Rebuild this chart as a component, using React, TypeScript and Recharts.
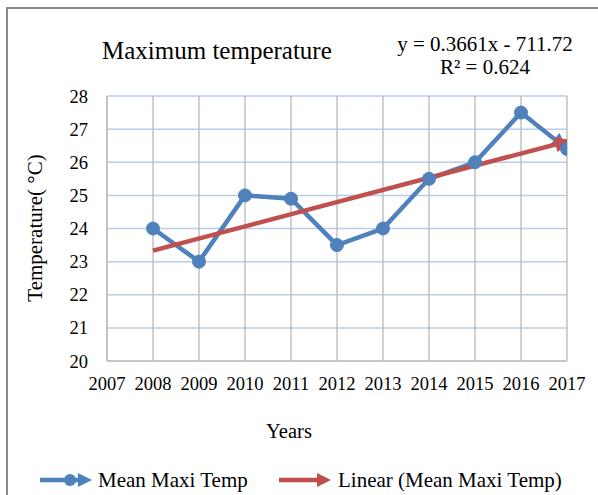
import React from 'react';
import { LineChart, Line, XAxis, YAxis, CartesianGrid } from 'recharts';

const years = [2008, 2009, 2010, 2011, 2012, 2013, 2014, 2015, 2016, 2017];
const maxTemp = [24, 23, 25, 24.9, 23.5, 24, 25.5, 26, 27.5, 26.4];
const trendYears = [2008, 2017];
const trendValues = [23.33, 26.63];
const xTicks = [2007, 2008, 2009, 2010, 2011, 2012, 2013, 2014, 2015, 2016, 2017];
const yTicks = [20, 21, 22, 23, 24, 25, 26, 27, 28];

const seriesName = 'Mean Maxi Temp';
const trendName = 'Linear (Mean Maxi Temp)';
const titleText = 'Maximum temperature';
const eqText = 'y = 0.3661x - 711.72';
const r2Text = 'R² = 0.624';
const xLabel = 'Years';
const yLabel = 'Temperature( °C)';

const BLUE = '#4f81bd';
const RED = '#c0504d';
const FONT = '"Liberation Serif", "Times New Roman", serif';

const data = years.map((year, i) => {
  const j = trendYears.indexOf(year);
  return { year, temp: maxTemp[i], trend: j >= 0 ? trendValues[j] : null };
});

const textBase: React.CSSProperties = {
  position: 'absolute',
  fontFamily: FONT,
  color: '#000',
  whiteSpace: 'nowrap',
  lineHeight: 1,
};

export default function App() {
  return (
    <div style={{ position: 'absolute', left: 0, top: 0, width: 598, height: 495, overflow: 'hidden', background: '#fff' }}>
      <div style={{ position: 'absolute', left: 6, top: 7, width: 620, height: 520, border: '2px solid #8a8a8a', boxSizing: 'border-box' }} />
      <LineChart
        width={598}
        height={495}
        data={data}
        margin={{ top: 96, right: 31, bottom: 0, left: 0 }}
        style={{ position: 'absolute', left: 0, top: 0, fontFamily: FONT }}
      >
        <defs>
          <marker id="arrowRed" markerUnits="userSpaceOnUse" markerWidth="16" markerHeight="16" viewBox="0 0 16 16" refX="12" refY="8" orient="auto">
            <path d="M0,0 L16,8 L0,16 z" fill={RED} />
          </marker>
          <marker id="arrowBlue" markerUnits="userSpaceOnUse" markerWidth="16" markerHeight="16" viewBox="0 0 16 16" refX="16" refY="8" orient="auto">
            <path d="M0,0 L16,8 L0,16 z" fill={BLUE} />
          </marker>
        </defs>
        <CartesianGrid horizontal={true} vertical={false} stroke="#b9cde5" strokeWidth={1.5} />
        <CartesianGrid horizontal={false} vertical={true} stroke="#c0c0c0" strokeWidth={1.5} />
        <XAxis
          dataKey="year"
          type="number"
          domain={[2007, 2017]}
          ticks={xTicks}
          interval={0}
          height={134}
          tickLine={false}
          tickSize={0}
          tickMargin={16}
          axisLine={{ stroke: '#c0c0c0', strokeWidth: 1.5 }}
          tick={{ fill: '#000', fontSize: 18.5, fontFamily: FONT }}
          allowDataOverflow
        />
        <YAxis
          type="number"
          domain={[20, 28]}
          ticks={yTicks}
          interval={0}
          width={107}
          tickLine={false}
          tickSize={0}
          tickMargin={19}
          axisLine={{ stroke: '#c0c0c0', strokeWidth: 1.5 }}
          tick={{ fill: '#000', fontSize: 18.5, fontFamily: FONT }}
          allowDataOverflow
        />
        <Line
          type="linear"
          dataKey="temp"
          name={seriesName}
          stroke={BLUE}
          strokeWidth={4.5}
          dot={false}
          activeDot={false}
          markerEnd="url(#arrowBlue)"
          isAnimationActive={false}
        />
        <Line
          type="linear"
          dataKey="trend"
          name={trendName}
          stroke={RED}
          strokeWidth={4.5}
          dot={false}
          activeDot={false}
          connectNulls
          markerEnd="url(#arrowRed)"
          isAnimationActive={false}
        />
        <Line
          type="linear"
          dataKey="temp"
          name={seriesName + ' markers'}
          stroke="none"
          strokeWidth={0}
          dot={{ r: 6.5, fill: BLUE, stroke: BLUE, strokeWidth: 1 }}
          activeDot={false}
          legendType="none"
          isAnimationActive={false}
        />
      </LineChart>

      <div style={{ ...textBase, left: 102, top: 38, fontSize: 25 }}>{titleText}</div>
      <div style={{ ...textBase, left: 380, width: 210, top: 34, fontSize: 21, textAlign: 'center' }}>{eqText}</div>
      <div style={{ ...textBase, left: 380, width: 210, top: 57, fontSize: 21, textAlign: 'center' }}>{r2Text}</div>

      <div style={{ ...textBase, left: 189, width: 200, top: 421, fontSize: 20.5, textAlign: 'center' }}>{xLabel}</div>
      <div
        style={{
          ...textBase,
          left: 36 - 100,
          top: 228 - 11,
          width: 200,
          height: 22,
          fontSize: 21,
          textAlign: 'center',
          transform: 'rotate(-90deg)',
          transformOrigin: '100px 11px',
        }}
      >
        {yLabel}
      </div>

      <svg width={598} height={40} style={{ position: 'absolute', left: 0, top: 460 }}>
        <line x1={40} y1={20} x2={80} y2={20} stroke={BLUE} strokeWidth={4.5} />
        <circle cx={70} cy={20} r={6} fill={BLUE} />
        <path d="M78,13 L92,20 L78,27 z" fill={BLUE} />
        <line x1={279} y1={20} x2={320} y2={20} stroke={RED} strokeWidth={4.5} />
        <path d="M317,13 L331,20 L317,27 z" fill={RED} />
      </svg>
      <div style={{ ...textBase, left: 98, top: 470, fontSize: 21 }}>{seriesName}</div>
      <div style={{ ...textBase, left: 338, top: 470, fontSize: 21 }}>{trendName}</div>
    </div>
  );
}
